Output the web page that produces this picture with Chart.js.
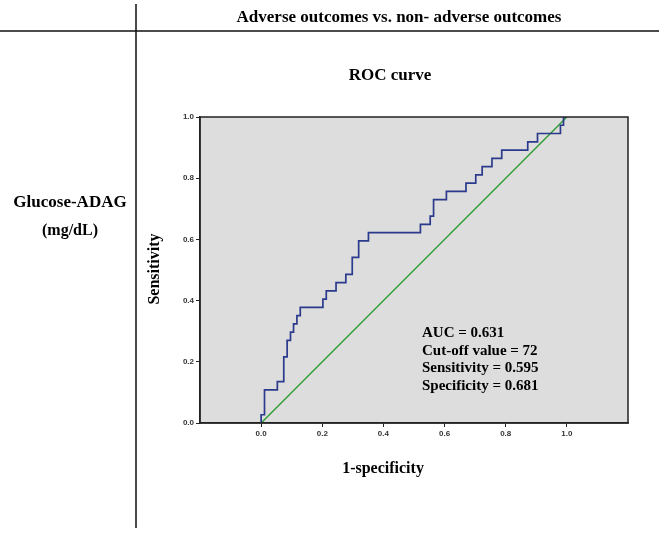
<!DOCTYPE html>
<html>
<head>
<meta charset="utf-8">
<script src="https://cdn.jsdelivr.net/npm/chart.js@4.4.1/dist/chart.umd.min.js"></script>
<style>
  html, body { margin: 0; padding: 0; background: #fff; }
  #rocChart { display: block; }
</style>
</head>
<body>
<canvas id="rocChart" width="664" height="533"></canvas>
<script>
// ROC curve points (1-specificity, sensitivity), stepped
var fpr = [0, 0.011, 0.053, 0.074, 0.085, 0.096, 0.106, 0.117, 0.128, 0.202,
  0.213, 0.245, 0.277, 0.298, 0.319, 0.351, 0.521, 0.553, 0.564, 0.606,
  0.670, 0.702, 0.723, 0.755, 0.787, 0.872, 0.904, 0.979, 0.989, 1.0];
var tpr = [0, 0.027, 0.108, 0.135, 0.216, 0.270, 0.297, 0.324, 0.351, 0.378,
  0.405, 0.432, 0.459, 0.486, 0.541, 0.595, 0.622, 0.649, 0.676, 0.730,
  0.757, 0.784, 0.811, 0.838, 0.865, 0.892, 0.919, 0.946, 0.973, 1.0];
// reference diagonal
var refX = [0, 1];
var refY = [0, 1];
var tickValues = [0, 0.2, 0.4, 0.6, 0.8, 1.0];
var statLines = ["AUC = 0.631", "Cut-off value = 72", "Sensitivity = 0.595", "Specificity = 0.681"];

var serif = "'Liberation Serif', 'Times New Roman', serif";

function toPoints(xs, ys) {
  return xs.map(function (x, i) { return { x: x, y: ys[i] }; });
}

var panelPlugin = {
  id: "panel",
  beforeDraw: function (chart) {
    var ctx = chart.ctx, a = chart.chartArea;
    ctx.save();
    ctx.fillStyle = "#dddddd";
    ctx.fillRect(a.left, a.top, a.right - a.left, a.bottom - a.top);
    ctx.restore();
  },
  afterDraw: function (chart) {
    var ctx = chart.ctx, a = chart.chartArea;
    ctx.save();
    // plot frame
    ctx.strokeStyle = "#222";
    ctx.lineWidth = 1.5;
    ctx.strokeRect(a.left, a.top, a.right - a.left, a.bottom - a.top);

    // table lines
    ctx.strokeStyle = "#111";
    ctx.lineWidth = 1.5;
    ctx.beginPath();
    ctx.moveTo(0, 31); ctx.lineTo(659, 31);
    ctx.moveTo(136, 4); ctx.lineTo(136, 528);
    ctx.stroke();

    ctx.fillStyle = "#000";
    ctx.textAlign = "center";
    ctx.textBaseline = "middle";
    ctx.font = "bold 17px " + serif;
    ctx.fillText("Adverse outcomes vs. non- adverse outcomes", 399, 18);
    ctx.fillText("ROC curve", 390, 76);
    ctx.fillText("Glucose-ADAG", 70, 203);
    ctx.font = "bold 16px " + serif;
    ctx.fillText("(mg/dL)", 70, 231);
    ctx.fillText("1-specificity", 383, 469);

    ctx.save();
    ctx.translate(155, 269);
    ctx.rotate(-Math.PI / 2);
    ctx.fillText("Sensitivity", 0, 0);
    ctx.restore();

    // stats box
    ctx.textAlign = "left";
    ctx.font = "bold 15px " + serif;
    statLines.forEach(function (s, i) {
      ctx.fillText(s, 422, 333 + i * 17.7);
    });
    ctx.restore();
  }
};

var tickFont = { family: "'Liberation Sans', Arial, sans-serif", size: 8, weight: "bold" };

var rocChart = new Chart(document.getElementById("rocChart").getContext("2d"), {
  type: "scatter",
  data: {
    datasets: [
      {
        label: "ROC",
        data: toPoints(fpr, tpr),
        showLine: true,
        stepped: "after",
        borderColor: "#2b3a8c",
        borderWidth: 1.7,
        pointRadius: 0,
        fill: false
      },
      {
        label: "Reference",
        data: toPoints(refX, refY),
        showLine: true,
        borderColor: "#2e9c34",
        borderWidth: 1.4,
        pointRadius: 0,
        fill: false
      }
    ]
  },
  options: {
    responsive: false,
    animation: false,
    events: [],
    layout: { padding: { left: 140, right: 36, top: 117, bottom: 54 } },
    plugins: { legend: { display: false }, tooltip: { enabled: false } },
    scales: {
      x: {
        type: "linear",
        min: -0.2,
        max: 1.2,
        afterBuildTicks: function (scale) {
          scale.ticks = tickValues.map(function (v) { return { value: v }; });
        },
        afterFit: function (scale) { scale.height = 56; },
        ticks: {
          font: tickFont,
          color: "#333",
          padding: 2,
          maxRotation: 0,
          callback: function (v) { return Number(v).toFixed(1); }
        },
        grid: { drawOnChartArea: false, drawTicks: true, tickLength: 4, color: "#222" },
        border: { display: true, color: "#222", width: 1.5 }
      },
      y: {
        type: "linear",
        min: 0,
        max: 1,
        afterBuildTicks: function (scale) {
          scale.ticks = tickValues.map(function (v) { return { value: v }; });
        },
        afterFit: function (scale) { scale.width = 60; },
        ticks: {
          font: tickFont,
          color: "#333",
          padding: 2,
          callback: function (v) { return Number(v).toFixed(1); }
        },
        grid: { drawOnChartArea: false, drawTicks: true, tickLength: 4, color: "#222" },
        border: { display: true, color: "#222", width: 1.5 }
      }
    }
  },
  plugins: [panelPlugin]
});
</script>
</body>
</html>
